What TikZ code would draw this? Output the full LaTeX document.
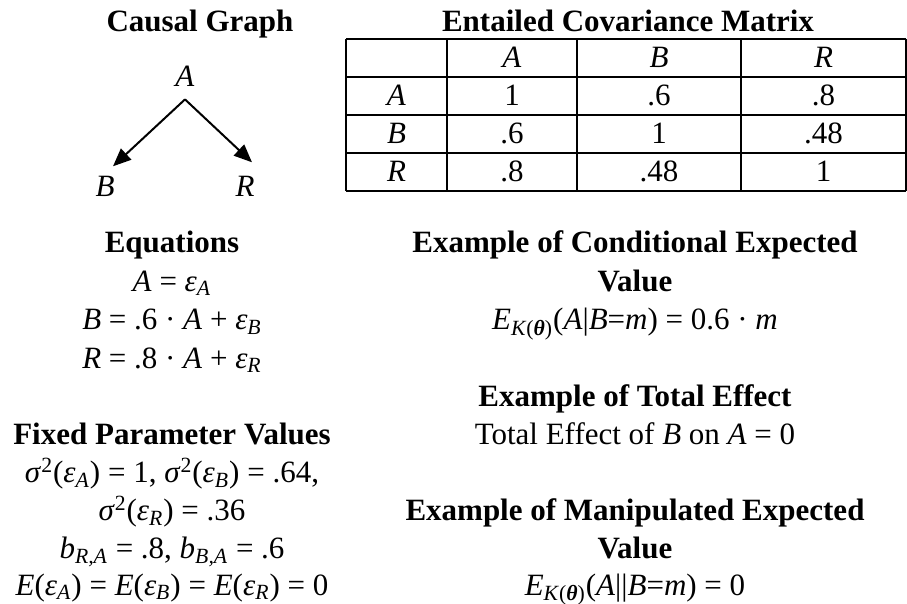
\documentclass[tikz,border=0pt]{standalone}
\usepackage{fontspec}
\setmainfont{Liberation Serif}
\usetikzlibrary{arrows.meta}

\newcommand{\er}[1]{\textit{ε}\textsubscript{\textit{#1}}}
\newcommand{\sigsq}{\textit{σ}\textsuperscript{2}}
\newcommand{\Ek}{\textit{E}\textsubscript{\textit{K}(\textbf{\textit{θ}})}}

\begin{document}
\begin{tikzpicture}[x=0.5pt,y=-0.5pt,
  every node/.style={inner sep=0pt,anchor=base,font=\fontsize{15.5}{18}\selectfont},
  head/.style={font=\fontsize{15.5}{18}\selectfont\bfseries},
  grid/.style={line width=1pt},
  arr/.style={line width=1pt,-{Triangle[length=9pt,width=7.5pt]}}]
  \useasboundingbox (0,0) rectangle (907,604);

  % causal graph
  \node[head] (tgraph) at (200,32) {Causal Graph};
  \node (A) at (185,87) {\textit{A}};
  \node (B) at (105,197) {\textit{B}};
  \node (R) at (245,197) {\textit{R}};
  \draw[arr] ([yshift=-6pt]A.south) -- ([xshift=4pt,yshift=5pt]B.north);
  \draw[arr] ([yshift=-6pt]A.south) -- ([xshift=3.5pt,yshift=7pt]R.north);

  % covariance matrix
  \node[head] (tmatrix) at (628,32) {Entailed Covariance Matrix};
  \foreach \y in {39,77,115,153,191}
    \draw[grid] (346,\y) -- (906,\y);
  \foreach \x in {346,447,577,741,906}
    \draw[grid] (\x,39) -- (\x,191);
  \foreach \v/\x [count=\i] in {A/512,B/659,R/823.5}
    \node (col\i) at (\x,68) {\textit{\v}};
  \foreach \v/\a/\b/\c [count=\i] in {A/1/.6/.8,B/.6/1/.48,R/.8/.48/1} {
    \node (row\i) at (396.5,{68+38*\i}) {\textit{\v}};
    \node (c\i a) at (512,{68+38*\i}) {\a};
    \node (c\i b) at (659,{68+38*\i}) {\b};
    \node (c\i r) at (823.5,{68+38*\i}) {\c};
  }

  % equations
  \node[head] (teq) at (172,253) {Equations};
  \node (eqA) at (172,291.5) {\textit{A} = \er{A}};
  \node (eqB) at (172,330) {\textit{B} = .6 · \textit{A} + \er{B}};
  \node (eqR) at (172,368.5) {\textit{R} = .8 · \textit{A} + \er{R}};

  % fixed parameters
  \node[head] (tfix) at (172,445) {Fixed Parameter Values};
  \node (fix1) at (172,483) {\sigsq(\er{A}) = 1, \sigsq(\er{B}) = .64,};
  \node (fix2) at (172,521) {\sigsq(\er{R}) = .36};
  \node (fix3) at (172,559) {\textit{b}\textsubscript{\textit{R,A}} = .8, \textit{b}\textsubscript{\textit{B,A}} = .6};
  \node (fix4) at (172,595.5) {\textit{E}(\er{A}) = \textit{E}(\er{B}) = \textit{E}(\er{R}) = 0};

  % examples
  \node[head] (tcond) at (635,253) {Example of Conditional Expected};
  \node[head] (tcond2) at (635,291.5) {Value};
  \node (cond) at (635,330) {\Ek(\textit{A}|\textit{B}=\textit{m}) = 0.6 · \textit{m}};
  \node[head] (ttot) at (635,407) {Example of Total Effect};
  \node (tot) at (635,445) {Total Effect of \textit{B} on \textit{A} = 0};
  \node[head] (tman) at (635,521) {Example of Manipulated Expected};
  \node[head] (tman2) at (635,559) {Value};
  \node (man) at (635,595.5) {\Ek(\textit{A}||\textit{B}=\textit{m}) = 0};
\end{tikzpicture}
\end{document}
